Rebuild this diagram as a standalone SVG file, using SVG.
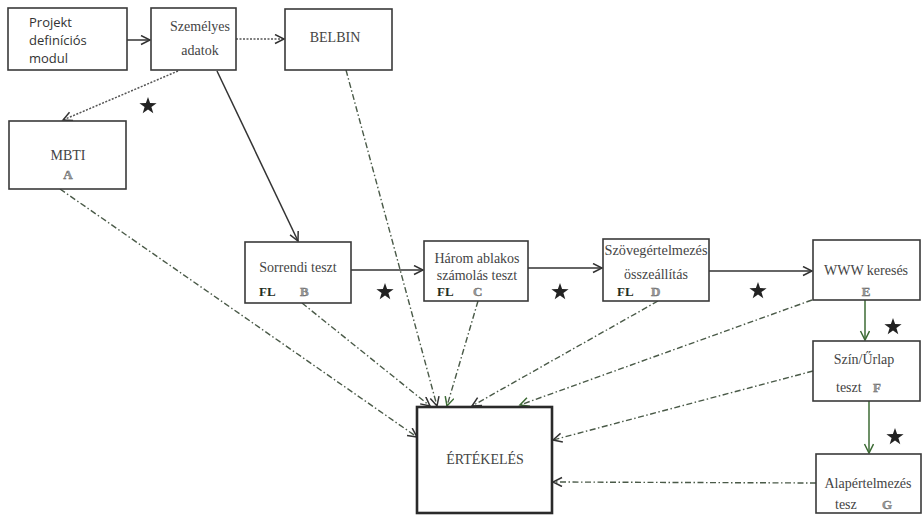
<svg xmlns="http://www.w3.org/2000/svg" width="923" height="515" viewBox="0 0 923 515">
<style>
.box{fill:#fff;stroke:#3a3a3a;stroke-width:1.6}
.big{fill:#fff;stroke:#2a2a2a;stroke-width:2.6}
.sans{font-family:'Open Sans','Liberation Sans',sans-serif;font-size:13px;fill:#333}
.serif{font-family:'Liberation Serif','Times New Roman',serif;font-size:14px;fill:#444}
.fl{font-family:'Liberation Serif','Times New Roman',serif;font-size:13px;font-weight:bold;fill:#1f2f1f}
.let{font-family:'Liberation Serif','Times New Roman',serif;font-size:13px;font-weight:bold;fill:#9a9a9a;stroke:#666;stroke-width:0.4}
.solid{fill:none;stroke:#333;stroke-width:1.5}
.green{fill:none;stroke:#3d6b35;stroke-width:1.5}
.dot{fill:none;stroke:#555;stroke-width:1.5;stroke-dasharray:2 1.5}
.dd{fill:none;stroke:#4a5a48;stroke-width:1.4;stroke-dasharray:6 2.5 1.5 2.5}
.star{fill:#222}
</style>
<defs>
<marker id="ah" markerWidth="12" markerHeight="12" refX="10" refY="5" orient="auto" markerUnits="userSpaceOnUse">
<path d="M1,0.5 L10,5 L1,9.5" fill="none" stroke="#333" stroke-width="1.5"/>
</marker>
<marker id="ahg" markerWidth="12" markerHeight="12" refX="10" refY="5" orient="auto" markerUnits="userSpaceOnUse">
<path d="M1,0.5 L10,5 L1,9.5" fill="none" stroke="#3d6b35" stroke-width="1.5"/>
</marker>
<polygon id="star" points="0,-9 2.1,-2.9 8.6,-2.8 3.4,1.1 5.3,7.3 0,3.6 -5.3,7.3 -3.4,1.1 -8.6,-2.8 -2.1,-2.9"/>
</defs>

<g id="connectors">
<line class="solid" x1="127" y1="40" x2="150" y2="40" marker-end="url(#ah)"/>
<line class="dot" x1="236" y1="39" x2="284" y2="39" marker-end="url(#ah)"/>
<line class="dot" x1="178" y1="71" x2="63" y2="120" marker-end="url(#ah)"/>
<line class="solid" x1="217" y1="71" x2="298" y2="241" marker-end="url(#ah)"/>
<line class="solid" x1="351" y1="270" x2="423" y2="270" marker-end="url(#ah)"/>
<line class="solid" x1="528" y1="268" x2="602" y2="268" marker-end="url(#ah)"/>
<line class="solid" x1="709" y1="271" x2="812" y2="271" marker-end="url(#ah)"/>
<line class="green" x1="865" y1="300" x2="865" y2="340" marker-end="url(#ahg)"/>
<line class="green" x1="869" y1="401" x2="869" y2="453" marker-end="url(#ahg)"/>
<line class="dd" x1="60" y1="189" x2="417" y2="437" marker-end="url(#ah)"/>
<line class="dd" x1="302" y1="303" x2="430" y2="406" marker-end="url(#ah)"/>
<line class="dd" x1="346" y1="70" x2="437" y2="406" marker-end="url(#ah)"/>
<line class="dd" x1="478" y1="301" x2="447" y2="406" marker-end="url(#ahg)"/>
<line class="dd" x1="658" y1="301" x2="472" y2="406" marker-end="url(#ah)"/>
<line class="dd" x1="812" y1="300" x2="520" y2="405" marker-end="url(#ahg)"/>
<line class="dd" x1="813" y1="371" x2="553" y2="440" marker-end="url(#ah)"/>
<line class="dd" x1="816" y1="483" x2="553" y2="482" marker-end="url(#ah)"/>
</g>

<g id="stars" class="star">
<use href="#star" x="148" y="106"/>
<use href="#star" x="385" y="292"/>
<use href="#star" x="560" y="292"/>
<use href="#star" x="758" y="291"/>
<use href="#star" x="893" y="327"/>
<use href="#star" x="895" y="437"/>
</g>

<g id="projekt">
<rect class="box" x="8" y="8" width="119" height="62"/>
<text class="sans" x="29" y="27">Projekt</text>
<text class="sans" x="29" y="45">definíciós</text>
<text class="sans" x="29" y="63">modul</text>
</g>

<g id="szemelyes">
<rect class="box" x="151" y="8" width="85" height="62"/>
<text class="serif" x="200" y="31" text-anchor="middle">Személyes</text>
<text class="serif" x="200" y="55" text-anchor="middle">adatok</text>
</g>

<g id="belbin">
<rect class="box" x="285" y="9" width="107" height="61"/>
<text class="serif" x="335" y="42" text-anchor="middle">BELBIN</text>
</g>

<g id="mbti">
<rect class="box" x="9" y="121" width="117" height="68"/>
<text class="serif" x="68" y="160" text-anchor="middle">MBTI</text>
<text class="let" x="68" y="179" text-anchor="middle">A</text>
</g>

<g id="sorrendi">
<rect class="box" x="245" y="242" width="106" height="61"/>
<text class="serif" x="298" y="272" text-anchor="middle">Sorrendi teszt</text>
<text class="fl" x="259" y="296">FL</text>
<text class="let" x="300" y="296">B</text>
</g>

<g id="harom">
<rect class="box" x="424" y="241" width="104" height="60"/>
<text class="serif" x="477" y="263" text-anchor="middle">Három ablakos</text>
<text class="serif" x="477" y="280" text-anchor="middle">számolás teszt</text>
<text class="fl" x="437" y="296">FL</text>
<text class="let" x="473" y="296">C</text>
</g>

<g id="szoveg">
<rect class="box" x="603" y="239" width="106" height="62"/>
<text class="serif" x="656" y="255" text-anchor="middle" textLength="103" lengthAdjust="spacingAndGlyphs">Szövegértelmezés</text>
<text class="serif" x="656" y="279" text-anchor="middle">összeállítás</text>
<text class="fl" x="617" y="296">FL</text>
<text class="let" x="651" y="296">D</text>
</g>

<g id="www">
<rect class="box" x="813" y="240" width="107" height="60"/>
<text class="serif" x="866" y="275" text-anchor="middle">WWW keresés</text>
<text class="let" x="866" y="296" text-anchor="middle">E</text>
</g>

<g id="szin">
<rect class="box" x="813" y="341" width="107" height="60"/>
<text class="serif" x="864" y="364" text-anchor="middle">Szín/Űrlap</text>
<text class="serif" x="836" y="392">teszt</text>
<text class="let" x="873" y="392">F</text>
</g>

<g id="alap">
<rect class="box" x="816" y="454" width="105" height="59"/>
<text class="serif" x="868" y="488" text-anchor="middle">Alapértelmezés</text>
<text class="serif" x="835" y="509">tesz</text>
<text class="let" x="882" y="509">G</text>
</g>

<g id="ertekeles">
<rect class="big" x="417" y="407" width="135" height="106"/>
<text class="serif" x="485" y="464" text-anchor="middle">ÉRTÉKELÉS</text>
</g>
</svg>
